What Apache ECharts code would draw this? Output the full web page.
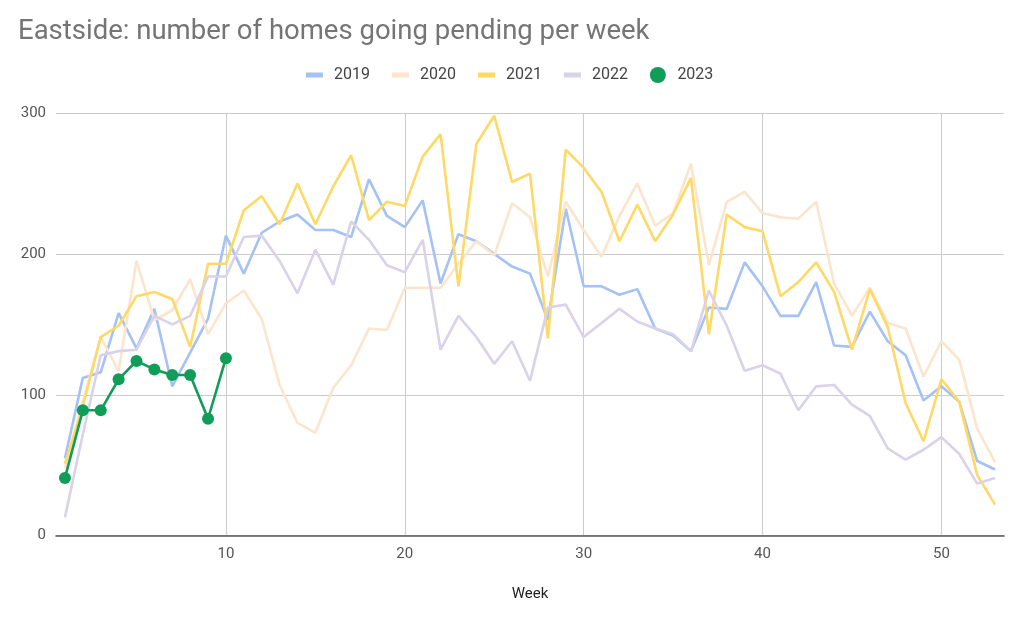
<!DOCTYPE html>
<html>
<head>
<meta charset="utf-8">
<script src="https://cdn.jsdelivr.net/npm/echarts@6/dist/echarts.min.js"></script>
<style>
html,body{margin:0;padding:0;background:#fff;}
#chart{width:1024px;height:619px;}
</style>
</head>
<body>
<div id="chart"></div>
<script>
const titleText = 'Eastside: number of homes going pending per week';
const xAxisName = 'Week';
const seriesNames = ['2019', '2020', '2021', '2022', '2023'];
const xTickLabels = [10, 20, 30, 40, 50];
const yTickLabels = [0, 100, 200, 300];

const weeks = [];
for (let w = 1; w <= 53; w++) weeks.push(w);

const v2019 = [55,112,116,158,133,161,106,130,154,213,186,215,223,228,217,217,212,253,227,219,238,179,214,209,200,191,186,153,232,177,177,171,175,147,142,131,162,161,194,177,156,156,180,135,134,159,138,128,96,106,95,53,47];
const v2020 = [48,95,141,117,195,153,160,182,143,165,174,154,107,80,73,105,121,147,146,176,176,176,193,209,199,236,226,184,237,217,198,227,250,220,229,264,192,237,244,229,226,225,237,179,156,176,151,147,113,138,125,76,52];
const v2021 = [51,92,141,149,170,173,168,134,193,193,231,241,221,250,221,248,270,224,237,234,269,285,177,278,298,251,257,140,274,261,244,209,235,209,228,254,143,228,219,216,170,180,194,173,132,175,148,94,67,111,95,43,22];
const v2022 = [13,72,128,131,132,156,150,156,184,184,212,213,195,172,203,178,223,210,192,187,210,132,156,141,122,138,110,162,164,141,151,161,152,147,143,131,174,149,117,121,115,89,106,107,93,85,62,54,61,70,58,37,41];
const v2023 = [41,89,89,111,124,118,114,114,83,126];

const colors = ['#a4c2f4', '#fce5cd', '#ffd966', '#d9d2e9', '#0f9d58'];
const allValues = [v2019, v2020, v2021, v2022, v2023];

function pairs(vals) { return vals.map((v, i) => [weeks[i], v]); }

const lineIcon = 'path://M0,0 M17,16 M0,5.5 L17,5.5 L17,10.5 L0,10.5 Z';

const series = seriesNames.map((name, i) => {
  const isDots = i === 4;
  return {
    name: name,
    type: 'line',
    data: pairs(allValues[i]),
    symbol: isDots ? 'circle' : 'none',
    symbolSize: isDots ? 12 : 0,
    showAllSymbol: true,
    lineStyle: { color: colors[i], width: 2.6 },
    itemStyle: { color: colors[i] },
    z: 2 + i
  };
});

const chart = echarts.init(document.getElementById('chart'), null, { renderer: 'canvas' });
chart.setOption({
  animation: false,
  textStyle: { fontFamily: 'Roboto' },
  title: {
    text: titleText,
    left: 18, top: 18, padding: 0,
    textStyle: { fontFamily: 'Roboto', fontSize: 27.5, fontWeight: 'normal', color: '#757575' }
  },
  legend: {
    left: 306, top: 67, padding: 0,
    itemWidth: 17, itemHeight: 16, itemGap: 22,
    data: seriesNames.map((n, i) => ({ name: n, icon: i === 4 ? 'circle' : lineIcon })),
    textStyle: { fontFamily: 'Roboto', fontSize: 16, color: '#444', padding: [0, 0, 0, 6] }
  },
  grid: { left: 56, right: 20, top: 113, bottom: 83.3, containLabel: false },
  xAxis: {
    type: 'value',
    min: 0.5, max: 53.5,
    name: xAxisName,
    nameLocation: 'middle',
    nameGap: 51,
    nameTextStyle: { fontFamily: 'Roboto', fontSize: 15, color: '#222' },
    axisLine: { show: true, lineStyle: { color: '#555', width: 1.6 } },
    axisTick: { show: false, customValues: xTickLabels },
    axisLabel: { customValues: xTickLabels, fontFamily: 'Roboto', fontSize: 15, color: '#555', margin: 11 },
    splitLine: { show: true, lineStyle: { color: '#cccccc', width: 1 } }
  },
  yAxis: {
    type: 'value',
    min: yTickLabels[0], max: yTickLabels[yTickLabels.length - 1], interval: 100,
    axisLine: { show: false },
    axisTick: { show: false },
    axisLabel: { fontFamily: 'Roboto', fontSize: 15, color: '#555', margin: 10 },
    splitLine: { show: true, lineStyle: { color: '#cccccc', width: 1 } }
  },
  series: series
});
</script>
</body>
</html>
